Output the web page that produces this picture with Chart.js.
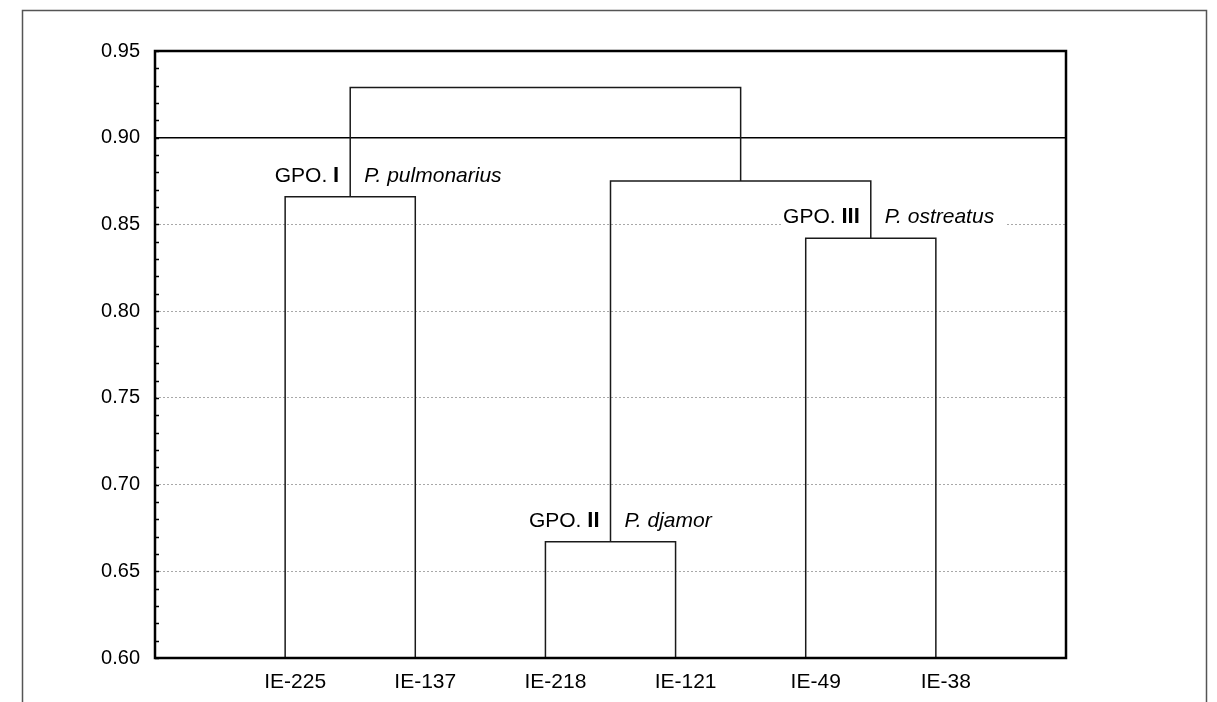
<!DOCTYPE html>
<html>
<head>
<meta charset="utf-8">
<script src="https://cdn.jsdelivr.net/npm/chart.js@4.4.1/dist/chart.umd.min.js"></script>
<style>
html, body { margin: 0; padding: 0; background: #fff; }
#wrap { width: 1217px; height: 702px; }
</style>
</head>
<body>
<div id="wrap"><canvas id="grafico" width="1217" height="702"></canvas></div>
<script>
const leaves = ['IE-225', 'IE-137', 'IE-218', 'IE-121', 'IE-49', 'IE-38'];
// each join: left child, right child, similarity level
const joinNames = ['I', 'II', 'III', 'II-III', 'todos'];
const joinLeft = ['IE-225', 'IE-218', 'IE-49', 'II', 'I'];
const joinRight = ['IE-137', 'IE-121', 'IE-38', 'III', 'II-III'];
const joinHeights = [0.866, 0.667, 0.842, 0.875, 0.929];
const groupNumerals = ['I', 'II', 'III'];
const groupSpecies = ['P. pulmonarius', 'P. djamor', 'P. ostreatus'];
const cutoff = 0.90;
const yTicks = [0.60, 0.65, 0.70, 0.75, 0.80, 0.85, 0.90, 0.95];

const FONT = "'Liberation Sans', Arial, sans-serif";

const nodeX = {}, nodeY = {};
leaves.forEach((l, i) => { nodeX[l] = i + 1; nodeY[l] = yTicks[0]; });
joinNames.forEach((n, i) => {
    nodeX[n] = (nodeX[joinLeft[i]] + nodeX[joinRight[i]]) / 2;
    nodeY[n] = joinHeights[i];
});

const datasets = joinNames.map((n, i) => {
    const a = joinLeft[i], b = joinRight[i], h = joinHeights[i];
    return {
        data: [
            {x: nodeX[a], y: nodeY[a]},
            {x: nodeX[a], y: h},
            {x: nodeX[b], y: h},
            {x: nodeX[b], y: nodeY[b]}
        ],
        borderColor: '#1a1a1a',
        borderWidth: 1.5
    };
});
datasets.push({
    data: [{x: 0, y: cutoff}, {x: leaves.length + 1, y: cutoff}],
    borderColor: '#000',
    borderWidth: 1.5
});

const decoracao = {
    id: 'decoracao',
    beforeDatasetsDraw(chart) {
        const ctx = chart.ctx;
        const xs = chart.scales.x, ys = chart.scales.y;
        ctx.save();
        ctx.textBaseline = 'alphabetic';
        groupNumerals.forEach((num, i) => {
            const px = xs.getPixelForValue(nodeX[joinNames[i]]);
            const py = ys.getPixelForValue(joinHeights[i]) - 15;
            ctx.font = '21px ' + FONT;
            const wGpo = ctx.measureText('GPO. ').width;
            ctx.font = 'bold 22px ' + FONT;
            const wNum = ctx.measureText(num).width;
            ctx.font = 'italic 21px ' + FONT;
            const wSp = ctx.measureText(groupSpecies[i]).width;
            const left = px - 11 - wNum - wGpo;
            ctx.fillStyle = '#fff';
            ctx.fillRect(left - 2, py - 19, wGpo + wNum + 11 + 14 + wSp + 14, 26);
            ctx.fillStyle = '#000';
            ctx.textAlign = 'left';
            ctx.font = '21px ' + FONT;
            ctx.fillText('GPO. ', left, py);
            ctx.font = 'bold 22px ' + FONT;
            ctx.fillText(num, left + wGpo, py);
            ctx.font = 'italic 21px ' + FONT;
            ctx.fillText(groupSpecies[i], px + 14, py);
        });
        ctx.restore();
    },
    afterDraw(chart) {
        const ctx = chart.ctx;
        const a = chart.chartArea, ys = chart.scales.y;
        ctx.save();
        ctx.strokeStyle = '#555';
        ctx.lineWidth = 1.5;
        ctx.strokeRect(22.5, 10.5, 1184, 720);
        ctx.strokeStyle = '#000';
        ctx.lineWidth = 2.5;
        ctx.strokeRect(a.left, a.top, a.right - a.left, a.bottom - a.top);
        ctx.lineWidth = 1.5;
        ctx.beginPath();
        for (let k = 60; k <= 95; k++) {
            const y = Math.round(ys.getPixelForValue(k / 100)) + 0.5;
            ctx.moveTo(a.left, y);
            ctx.lineTo(a.left + 4, y);
        }
        ctx.stroke();
        ctx.restore();
    }
};

new Chart(document.getElementById('grafico'), {
    type: 'scatter',
    data: { datasets: datasets },
    options: {
        responsive: false,
        animation: false,
        showLine: true,
        elements: { point: { radius: 0 }, line: { tension: 0 } },
        layout: { padding: { left: 0, top: 51, right: 151, bottom: 0 } },
        plugins: { legend: { display: false }, tooltip: { enabled: false } },
        scales: {
            x: {
                type: 'linear',
                min: 0,
                max: leaves.length + 1,
                afterBuildTicks: (axis) => { axis.ticks = leaves.map((_, i) => ({ value: i + 1 })); },
                afterFit: (axis) => { axis.height = 44; },
                grid: { display: false },
                border: { display: false },
                ticks: {
                    callback: (v) => leaves[v - 1],
                    color: '#000',
                    padding: 4,
                    labelOffset: 10,
                    maxRotation: 0,
                    autoSkip: false,
                    font: { size: 21, family: FONT }
                }
            },
            y: {
                min: yTicks[0],
                max: yTicks[yTicks.length - 1],
                afterBuildTicks: (axis) => { axis.ticks = yTicks.map(v => ({ value: v })); },
                afterFit: (axis) => { axis.width = 155; },
                grid: { color: '#a8a8a8', lineWidth: 1, drawTicks: false },
                border: { display: false, dash: [2, 2] },
                ticks: {
                    callback: (v) => v.toFixed(2),
                    color: '#000',
                    padding: 15,
                    font: { size: 20, family: FONT }
                }
            }
        }
    },
    plugins: [decoracao]
});
</script>
</body>
</html>
